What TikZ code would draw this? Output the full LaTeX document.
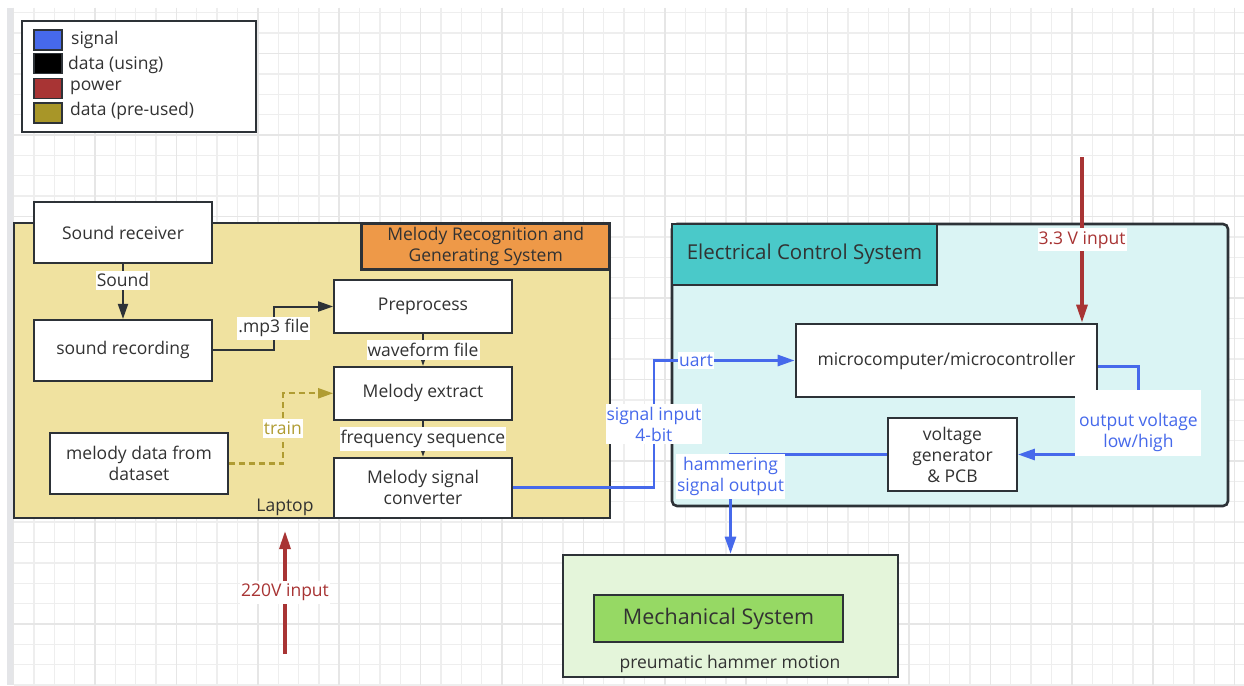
\documentclass[tikz,border=0pt]{standalone}
\usepackage{fontspec}
\setmainfont{Open Sans}
\usepackage{xcolor}
\usetikzlibrary{arrows.meta,positioning}

\definecolor{sigblue}{RGB}{70,105,235}
\definecolor{pwrred}{RGB}{168,52,52}
\definecolor{preolive}{RGB}{176,156,50}
\definecolor{keyolive}{RGB}{168,150,40}
\definecolor{boxline}{RGB}{45,50,55}
\definecolor{txtgray}{RGB}{50,50,50}
\definecolor{laptopfill}{RGB}{240,226,160}
\definecolor{orangefill}{RGB}{238,153,72}
\definecolor{ecsfill}{RGB}{218,244,244}
\definecolor{tealfill}{RGB}{74,201,201}
\definecolor{mechfill}{RGB}{228,245,218}
\definecolor{mechinner}{RGB}{150,217,100}
\definecolor{gridminor}{RGB}{238,238,238}
\definecolor{gridmajor}{RGB}{230,230,230}
\definecolor{sidebar}{RGB}{228,229,232}

\begin{document}
\begin{tikzpicture}[x=1pt, y=-1pt,
    every node/.style={font=\fontsize{17.5}{21}\selectfont, text=txtgray},
    block/.style={draw=boxline, fill=white, line width=1.8pt, align=center, minimum width=178pt, inner sep=1pt},
    container/.style={draw=boxline, line width=2pt},
    systitle/.style={draw=boxline, line width=2.6pt, align=center},
    keybox/.style={draw=boxline, line width=1.2pt, minimum width=28pt, minimum height=20pt, inner sep=0pt},
    lbl/.style={fill=white, inner xsep=1pt, inner ysep=3pt, align=center},
    dataline/.style={->, line width=2pt, draw=boxline, >={Triangle[length=15pt,width=10pt]}},
    sigline/.style={->, line width=2.8pt, draw=sigblue, >={Triangle[length=17pt,width=11pt]}},
    pwrline/.style={->, line width=3.2pt, draw=pwrred, >={Triangle[length=18pt,width=11pt]}},
    preline/.style={->, line width=2.2pt, draw=preolive, dash pattern=on 6pt off 4pt, >={Triangle[length=15pt,width=10pt]}},
]
    \useasboundingbox (0,0) rectangle (1244,685);

    % Grid
    \fill[white] (0,0) rectangle (1244,685);
    \fill[sidebar] (7,8) rectangle (14,685);
    \foreach \i in {0,...,60}
        \draw[gridminor, line width=1.3pt] ({13.6+20.35*\i},8) -- ({13.6+20.35*\i},685);
    \foreach \j in {-2,...,31}
        \draw[gridminor, line width=1.3pt] (14,{53.5+20.375*\j}) -- (1244,{53.5+20.375*\j});
    \foreach \i in {0,...,15}
        \draw[gridmajor, line width=1.6pt] ({13.6+81.4*\i},8) -- ({13.6+81.4*\i},685);
    \foreach \j in {0,...,7}
        \draw[gridmajor, line width=1.6pt] (14,{53.5+81.5*\j}) -- (1244,{53.5+81.5*\j});

    % Legend
    \node [draw=boxline, line width=1.6pt, fill=white, minimum width=234pt, minimum height=111pt] (legend) at (139,76.5) {};
    \node [keybox, fill=sigblue] (keysig) at (48,40) {};
    \node [keybox, fill=black] (keydata) at (48,63.5) {};
    \node [keybox, fill=pwrred] (keypwr) at (48,88.5) {};
    \node [keybox, fill=keyolive] (keypre) at (48,113) {};
    \node [anchor=west, inner sep=0pt] (keysigtxt) at (71,40) {signal};
    \node [anchor=west, inner sep=0pt] (keydatatxt) at (68,65) {data (using)};
    \node [anchor=west, inner sep=0pt] (keypwrtxt) at (70,88) {power};
    \node [anchor=west, inner sep=0pt] (keypretxt) at (70,111) {data (pre-used)};

    % Systems
    \node [container, fill=laptopfill, minimum width=596pt, minimum height=295pt] (laptop) at (312,370.5) {};
    \node [systitle, fill=orangefill, minimum width=248pt, minimum height=46pt, anchor=north east] (mrgs) at (laptop.north east) {Melody Recognition and\\Generating System};
    \node (laptoplbl) at (285,507) {Laptop};

    \node [container, fill=ecsfill, rounded corners=5pt, line width=2.6pt, minimum width=556pt, minimum height=282pt] (ecs) at (950,365) {};
    \node [systitle, fill=tealfill, minimum width=265pt, minimum height=61pt, anchor=north west, font=\fontsize{20.5}{24}\selectfont] (ecstitle) at (ecs.north west) {Electrical Control System};

    \node [container, fill=mechfill, line width=2.6pt, minimum width=335pt, minimum height=122pt] (mech) at (730.5,616) {};
    \node [systitle, fill=mechinner, minimum width=249pt, minimum height=47pt, font=\fontsize{21.5}{25}\selectfont] (mechsys) at (718.5,618.5) {Mechanical System};
    \node (mechlbl) at (730,664) {preumatic hammer motion};

    % Nodes
    \node [block, minimum height=61pt] (recv) at (123,232.5) {Sound receiver};
    \node [block, minimum height=61pt, below=55pt of recv] (rec) {sound recording};
    \node [block, minimum height=61pt] (dataset) at (139,463.5) {melody data from\\dataset};
    \node [block, minimum height=53pt] (prep) at (423,306.5) {Preprocess};
    \node [block, minimum height=53pt, below=32pt of prep] (extract) {Melody extract};
    \node [block, minimum height=60pt, below=36pt of extract] (conv) {Melody signal\\converter};
    \node [block, line width=2.8pt, minimum width=301pt, minimum height=73pt] (mcu) at (946.5,360.5) {microcomputer/microcontroller};
    \node [block, minimum width=129pt, minimum height=73pt] (vgen) at (952.5,454.5) {voltage\\generator\\\& PCB};

    % Arrows
    \draw [dataline] (recv) -- node[lbl, pos=0.3] {Sound} (rec);
    \draw [dataline] (rec.east) -- ++(61,0) |- node[lbl, pos=0.25] {.mp3 file} (prep.west);
    \draw [dataline] (prep) -- node[lbl] {waveform file} (extract);
    \draw [dataline] (extract) -- node[lbl] {frequency sequence} (conv);
    \draw [preline] (dataset.east) -- ++(54,0) |- node[lbl, pos=0.25, text=preolive] {train} (extract.west);

    \draw [sigline] (conv.east) -- ++(141,0) |- node[lbl, pos=0.25, text=sigblue] {signal input\\4-bit} node[lbl, pos=0.65, text=sigblue] {uart} (mcu.west);
    \draw [sigline] ([yshift=-6pt]mcu.east) -- ++(40,0) |- node[lbl, pos=0.32, text=sigblue, minimum width=126pt, minimum height=66pt] {\raisebox{-14pt}[0pt][0pt]{\begin{tabular}{@{}c@{}}output voltage\\low/high\end{tabular}}} (vgen.east);
    \draw [sigline] (vgen.west) -| node[lbl, pos=0.61, text=sigblue] {hammering\\signal output} (mech.north);

    \coordinate (in33) at (1082,157);
    \draw [pwrline] (in33) -- node[lbl, text=pwrred] {3.3 V input} (in33 |- mcu.north);
    \coordinate (in220) at (285,654);
    \draw [pwrline] (in220) -- node[lbl, text=pwrred] {220V input} ([yshift=-12pt]in220 |- laptop.south);
\end{tikzpicture}
\end{document}
